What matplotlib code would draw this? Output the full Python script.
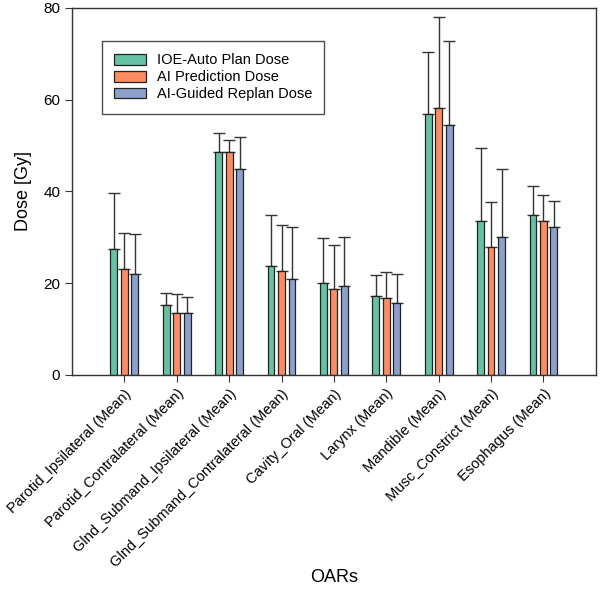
import numpy as np
import matplotlib.pyplot as plt

plt.rcParams['font.family'] = ['Liberation Sans', 'DejaVu Sans']

oars = ['Parotid_Ipsilateral (Mean)', 'Parotid_Contralateral (Mean)',
        'Glnd_Submand_Ipsilateral (Mean)', 'Glnd_Submand_Contralateral (Mean)',
        'Cavity_Oral (Mean)', 'Larynx (Mean)', 'Mandible (Mean)',
        'Musc_Constrict (Mean)', 'Esophagus (Mean)']

ioe_auto = [27.5, 15.3, 48.5, 23.8, 20.1, 17.2, 56.9, 33.6, 34.8]
ioe_auto_sd = [12.1, 2.5, 4.3, 11.1, 9.8, 4.5, 13.4, 15.9, 6.4]
ai_pred = [23.1, 13.4, 48.5, 22.7, 18.7, 16.8, 58.2, 28.0, 33.6]
ai_pred_sd = [7.9, 4.2, 2.7, 10.0, 9.6, 5.7, 19.8, 9.6, 5.6]
ai_replan = [22.0, 13.6, 45.0, 21.0, 19.4, 15.6, 54.5, 30.1, 32.2]
ai_replan_sd = [8.7, 3.5, 6.9, 11.2, 10.7, 6.3, 18.3, 14.7, 5.8]

series = [
    ('IOE-Auto Plan Dose', ioe_auto, ioe_auto_sd, '#66c2a5'),
    ('AI Prediction Dose', ai_pred, ai_pred_sd, '#fc8d62'),
    ('AI-Guided Replan Dose', ai_replan, ai_replan_sd, '#8da0cb'),
]

fig = plt.figure(figsize=(6, 5.92), dpi=100)
ax = fig.add_axes([0.12, 0.3666, 0.873, 0.62])

x = np.arange(len(oars))
width = 0.13
offsets = [-0.2, 0.0, 0.2]
for (label, vals, sd, color), off in zip(series, offsets):
    ax.bar(x + off, vals, width, color=color, edgecolor='#222222', linewidth=0.9,
           label=label, zorder=2)
    ax.errorbar(x + off, vals, yerr=[np.zeros(len(sd)), sd], fmt='none',
                ecolor='#333333', elinewidth=1.0, capsize=4, capthick=1.0, zorder=1)

ax.set_xlim(-1.0, 9.0)
ax.set_ylim(0, 80)
ax.set_yticks([0, 20, 40, 60, 80])
ax.set_xticks(x)
ax.set_xticklabels(oars, rotation=45, ha='right', rotation_mode='anchor', fontsize=10.5)
ax.tick_params(axis='y', labelsize=11, length=5, direction='out', color='#333333')
ax.tick_params(axis='x', length=5, direction='out', color='#333333')
for s in ax.spines.values():
    s.set_color('#333333')
    s.set_linewidth(1.0)

ax.set_ylabel('Dose [Gy]', fontsize=13, labelpad=8)
fig.text(0.557, 1 - 578 / 592, 'OARs', fontsize=13, ha='center', va='center')

leg = ax.legend(loc='upper left', bbox_to_anchor=(0.057, 0.91), borderaxespad=0,
                fontsize=10.5, frameon=True, fancybox=False, edgecolor='#222222',
                handlelength=2.2, handleheight=0.75, handletextpad=0.7,
                borderpad=0.85, labelspacing=0.2)
leg.get_frame().set_linewidth(1.0)

fig.savefig('out.png', dpi=100)
